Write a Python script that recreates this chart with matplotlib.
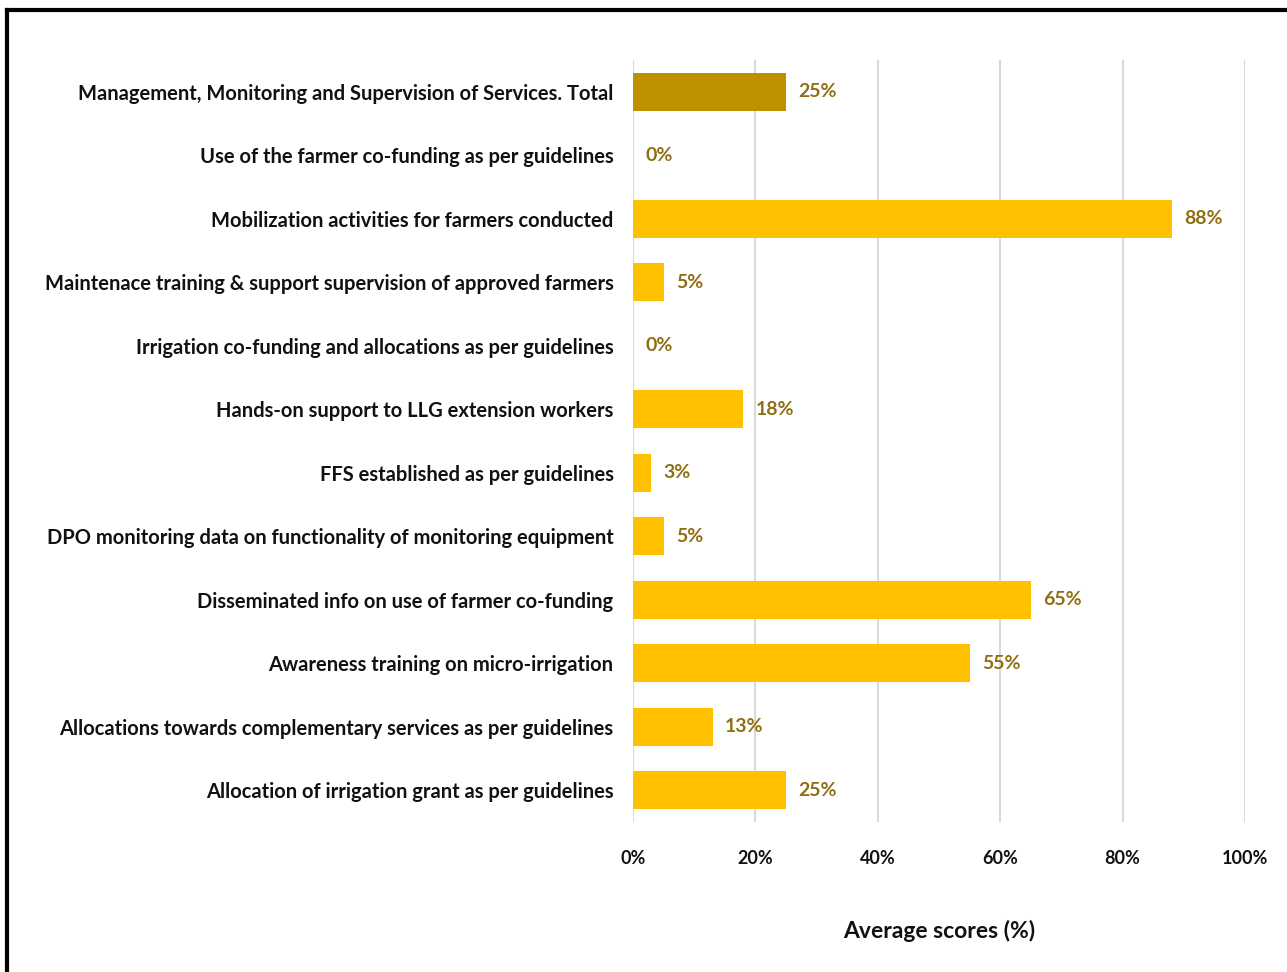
import matplotlib.pyplot as plt
from matplotlib.lines import Line2D

# Categories (top to bottom as in the chart)
categories = [
    "Management, Monitoring and Supervision of Services. Total",
    "Use of the farmer co-funding as per guidelines",
    "Mobilization activities for farmers conducted",
    "Maintenace training & support supervision of approved farmers",
    "Irrigation co-funding and allocations as per guidelines",
    "Hands-on support to LLG extension workers",
    "FFS established as per guidelines",
    "DPO monitoring data on functionality of monitoring equipment",
    "Disseminated info on use of farmer co-funding",
    "Awareness training on micro-irrigation",
    "Allocations towards complementary services as per guidelines",
    "Allocation of irrigation grant as per guidelines",
]
scores = [25, 0, 88, 5, 0, 18, 3, 5, 65, 55, 13, 25]
is_total = [True] + [False] * 11

plt.rcParams['font.family'] = ['Lato', 'DejaVu Sans']

fig = plt.figure(figsize=(12.87, 9.72), dpi=100)
ax = fig.add_axes([0.4918, 0.1543, 0.4756, 0.784])

colors = ['#BF9000' if t else '#FFC000' for t in is_total]
ypos = list(range(len(categories)))
ax.barh(ypos, scores, height=0.6, color=colors, zorder=3)

for y, v in zip(ypos, scores):
    ax.text(v + 2.0, y, f"{v}%", va='center', ha='left', fontsize=14,
            fontweight='bold', color='#8F6F12')

ax.set_ylim(len(categories) - 0.5, -0.5)
ax.set_xlim(0, 100)
ax.set_yticks(ypos)
ax.set_yticklabels(categories, fontsize=14.5, fontweight='bold', color='#111111')
ax.set_xticks(range(0, 101, 20))
ax.set_xticklabels([f"{t}%" for t in range(0, 101, 20)], fontsize=13,
                   fontweight='bold', color='#111111')
ax.tick_params(axis='both', length=0)
ax.tick_params(axis='y', pad=14)
ax.tick_params(axis='x', pad=20)
ax.grid(axis='x', color='#d9d9d9', linewidth=1.5, zorder=0)
for s in ax.spines.values():
    s.set_visible(False)

ax.set_xlabel("Average scores (%)", fontsize=16.5, fontweight='bold',
              color='#111111', labelpad=38)

# frame on the left and top edges
fig.add_artist(Line2D([0.0058, 0.0058], [0.0, 0.9897], color='black', lw=3))
fig.add_artist(Line2D([0.0058, 1.0], [0.9897, 0.9897], color='black', lw=3))

fig.savefig('out.png', dpi=100)
